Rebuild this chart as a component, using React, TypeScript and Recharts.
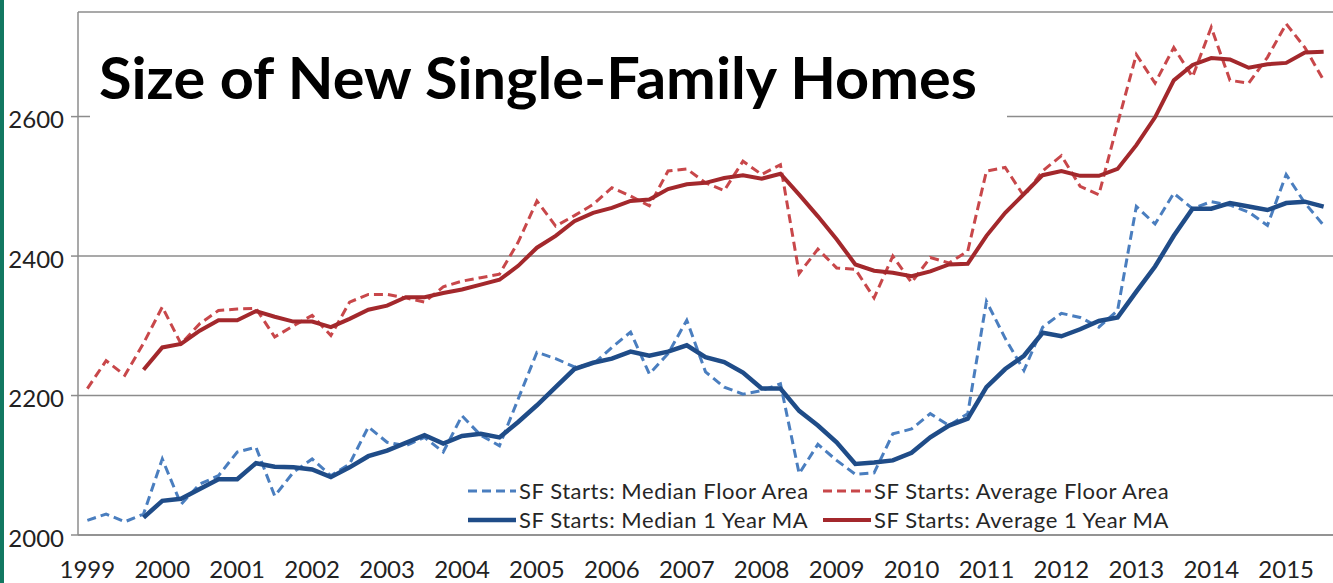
import React from "react";
import {
  LineChart,
  Line,
  XAxis,
  YAxis,
  CartesianGrid,
} from "recharts";

// quarterly, 1999 Q1 .. 2015 Q3
const years = [
  1999, 2000, 2001, 2002, 2003, 2004, 2005, 2006, 2007, 2008, 2009, 2010, 2011,
  2012, 2013, 2014, 2015,
];
const quarterCount = 67;

const medianFloor = [
  2021, 2030, 2019, 2030, 2109, 2044, 2073, 2085, 2119, 2126, 2056, 2090, 2109,
  2085, 2102, 2155, 2133, 2128, 2140, 2119, 2171, 2143, 2128, 2195, 2262, 2253,
  2241, 2245, 2269, 2291, 2231, 2260, 2308, 2234, 2212, 2202, 2207, 2217, 2088,
  2130, 2107, 2087, 2089, 2145, 2152, 2174, 2157, 2174, 2335, 2282, 2236, 2298,
  2318, 2312, 2298, 2322, 2471, 2446, 2490, 2468, 2478, 2473, 2463, 2444, 2517,
  2476, 2444,
];

const averageFloor = [
  2210, 2250, 2229, 2275, 2327, 2274, 2303, 2322, 2324, 2325, 2284, 2300, 2315,
  2286, 2334, 2345, 2345, 2340, 2334, 2356, 2364, 2369, 2374, 2420, 2479, 2443,
  2458, 2474, 2498, 2486, 2472, 2522, 2525, 2505, 2494, 2536, 2517, 2531, 2375,
  2410, 2383, 2381, 2340, 2400, 2362, 2398, 2390, 2407, 2522, 2527, 2486, 2522,
  2544, 2500, 2488, 2590, 2689, 2648, 2699, 2657, 2728, 2652, 2648, 2685, 2733,
  2699, 2652,
];

const medianMA = [
  null, null, null, 2025, 2049, 2052, 2066, 2080, 2080, 2103, 2098, 2097, 2094,
  2083, 2097, 2113, 2121, 2132, 2143, 2131, 2142, 2145, 2140, 2162, 2186, 2212,
  2238, 2247, 2253, 2263, 2257, 2263, 2272, 2255, 2248, 2233, 2210, 2210, 2178,
  2157, 2133, 2102, 2104, 2107, 2118, 2140, 2157, 2167, 2212, 2238, 2257, 2290,
  2285, 2295, 2307, 2312, 2349, 2385, 2429, 2468, 2468, 2476, 2471, 2466, 2476,
  2478, 2471,
];

const averageMA = [
  null, null, null, 2237, 2269, 2274, 2293, 2308, 2308, 2321, 2313, 2306, 2306,
  2298, 2310, 2323, 2329, 2341, 2341, 2347, 2352, 2359, 2366, 2386, 2412, 2429,
  2450, 2462, 2469, 2479, 2481, 2496, 2503, 2505, 2512, 2516, 2511, 2518, 2488,
  2457, 2424, 2388, 2379, 2376, 2371, 2378, 2388, 2389, 2429, 2462, 2489, 2516,
  2522, 2515, 2515, 2525, 2559, 2599, 2652, 2674, 2684, 2682, 2670, 2675, 2677,
  2692, 2693,
];

const yTicks = [2000, 2200, 2400, 2600];

const series = [
  { key: "medFloor", name: "SF Starts: Median Floor Area", color: "#4a7ebf", width: 3, dash: "9 5" },
  { key: "avgFloor", name: "SF Starts: Average Floor Area", color: "#c8474a", width: 3, dash: "9 5" },
  { key: "medMA", name: "SF Starts: Median 1 Year MA", color: "#1f4c88", width: 4.5, dash: undefined },
  { key: "avgMA", name: "SF Starts: Average 1 Year MA", color: "#a3282c", width: 4, dash: undefined },
];

const quarters = years
  .flatMap((y) => [1, 2, 3, 4].map((q) => `${y}Q${q}`))
  .slice(0, quarterCount);

const data = quarters.map((q, i) => ({
  i,
  q,
  medFloor: medianFloor[i],
  avgFloor: averageFloor[i],
  medMA: medianMA[i],
  avgMA: averageMA[i],
}));

// tick marks sit between quarters, year labels on each Q1
const boundaryTicks = [...quarters.map((_, i) => i - 0.5), quarterCount - 0.5];
const yearTicks = years.map((_, k) => k * 4);

const FONT = "Lato, 'Open Sans', sans-serif";
const AXIS_GRAY = "#8c8c8c";

function LegendBox() {
  return (
    <div
      style={{
        position: "absolute",
        left: 467,
        top: 476,
        display: "grid",
        gridTemplateColumns: "355px 360px",
        fontFamily: FONT,
        fontSize: 22,
        letterSpacing: 0.55,
        lineHeight: "29px",
        color: "#262626",
        whiteSpace: "nowrap",
      }}
    >
      {series.map((s) => (
        <div key={s.key} style={{ display: "flex", alignItems: "center" }}>
          <svg width={50} height={10} style={{ marginRight: 2 }}>
            <line
              x1={1}
              x2={49}
              y1={5}
              y2={5}
              stroke={s.color}
              strokeWidth={s.width}
              strokeDasharray={s.dash}
            />
          </svg>
          <span>{s.name}</span>
        </div>
      ))}
    </div>
  );
}

export default function App() {
  return (
    <div
      style={{
        position: "absolute",
        left: 0,
        top: 0,
        width: 1333,
        height: 583,
        background: "#fff",
        overflow: "hidden",
      }}
    >
      <LineChart
        width={1333}
        height={583}
        data={data}
        margin={{ top: 12, right: 0, bottom: 0, left: 0 }}
      >
        <CartesianGrid
          xAxisId="q"
          vertical={false}
          stroke={AXIS_GRAY}
          strokeWidth={1.5}
        />
        <XAxis
          xAxisId="q"
          dataKey="i"
          type="number"
          domain={[-0.5, quarterCount - 0.5]}
          ticks={boundaryTicks}
          interval={0}
          tick={false}
          tickSize={8}
          height={8}
          axisLine={{ stroke: AXIS_GRAY, strokeWidth: 1.5 }}
          tickLine={{ stroke: AXIS_GRAY, strokeWidth: 1.5 }}
          allowDataOverflow
        />
        <XAxis
          xAxisId="yr"
          dataKey="i"
          type="number"
          domain={[-0.5, quarterCount - 0.5]}
          ticks={yearTicks}
          interval={0}
          tickFormatter={(v: number) => String(years[v / 4])}
          axisLine={false}
          tickLine={false}
          tickSize={0}
          tickMargin={18}
          height={40}
          tick={{ fontFamily: FONT, fontSize: 24, fill: "#222" }}
          allowDataOverflow
        />
        <YAxis
          domain={[2000, 2750]}
          ticks={yTicks}
          interval={0}
          width={78}
          tickSize={7}
          tickMargin={7}
          axisLine={{ stroke: AXIS_GRAY, strokeWidth: 1.5 }}
          tickLine={{ stroke: AXIS_GRAY, strokeWidth: 1.5 }}
          tick={{ fontFamily: FONT, fontSize: 24, fill: "#222", dy: 3 }}
          allowDataOverflow
        />
        {series.map((s) => (
          <Line
            key={s.key}
            xAxisId="q"
            type="linear"
            dataKey={s.key}
            name={s.name}
            stroke={s.color}
            strokeWidth={s.width}
            strokeDasharray={s.dash}
            dot={false}
            activeDot={false}
            connectNulls={false}
            isAnimationActive={false}
          />
        ))}
      </LineChart>

      {/* title sits on a white box that hides the 2600 gridline */}
      <svg
        width={1333}
        height={583}
        style={{ position: "absolute", left: 0, top: 0, pointerEvents: "none" }}
      >
        <rect x={90} y={22} width={917} height={102} fill="#fff" />
        <text
          x={99}
          y={99}
          fontFamily={FONT}
          fontWeight={700}
          fontSize={58}
          fill="#000"
          textLength={878}
          lengthAdjust="spacingAndGlyphs"
        >
          Size of New Single-Family Homes
        </text>
      </svg>

      <LegendBox />

      <div
        style={{
          position: "absolute",
          left: 0,
          top: 0,
          width: 4,
          height: 583,
          background: "#127861",
        }}
      />
    </div>
  );
}
